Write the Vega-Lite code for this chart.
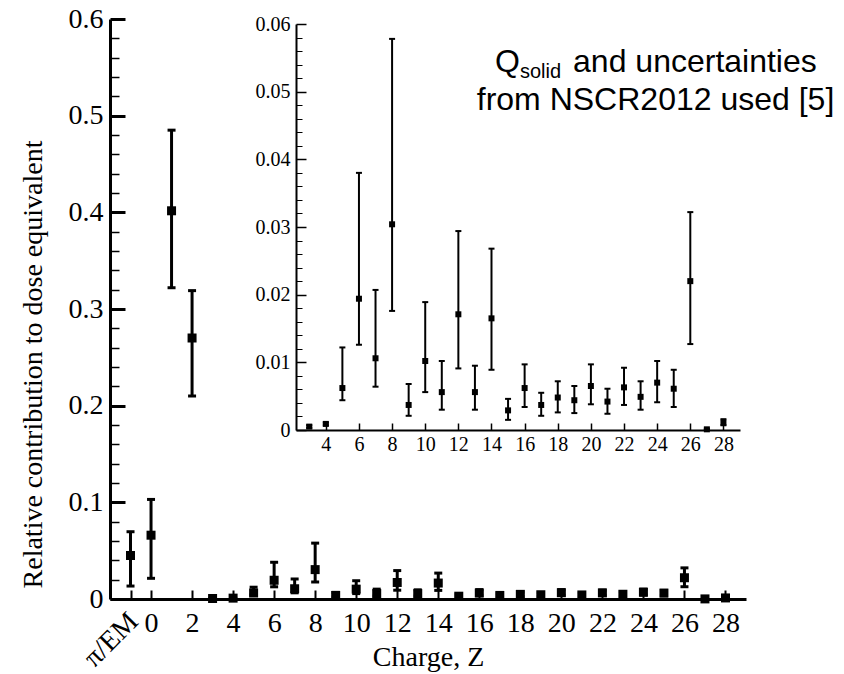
{
  "$schema": "https://vega.github.io/schema/vega-lite/v6.json",
  "width": 636,
  "height": 580,
  "autosize": {"type": "none"},
  "padding": {"left": 110, "top": 19, "right": 98, "bottom": 75},
  "background": "white",
  "config": {
    "view": {"stroke": null},
    "axis": {"grid": false, "domainColor": "black", "tickColor": "black", "labelColor": "black", "titleColor": "black", "labelFlush": false, "labelOverlap": false, "labelBound": false, "titleFontWeight": "normal"}
  },
  "data": {
    "values": [
      {"z": -1, "v": 0.045, "lo": 0.0134, "hi": 0.0696},
      {"z": 0, "v": 0.066, "lo": 0.0214, "hi": 0.103},
      {"z": 1, "v": 0.4016, "lo": 0.322, "hi": 0.485},
      {"z": 2, "v": 0.27, "lo": 0.21, "hi": 0.319},
      {"z": 3, "v": 0.0005, "lo": 0.0003, "hi": 0.0007},
      {"z": 4, "v": 0.0009, "lo": 0.0007, "hi": 0.0011},
      {"z": 5, "v": 0.0062, "lo": 0.0044, "hi": 0.0122},
      {"z": 6, "v": 0.0194, "lo": 0.0126, "hi": 0.038},
      {"z": 7, "v": 0.0106, "lo": 0.0064, "hi": 0.0207},
      {"z": 8, "v": 0.0304, "lo": 0.0176, "hi": 0.0578},
      {"z": 9, "v": 0.0037, "lo": 0.0021, "hi": 0.0068},
      {"z": 10, "v": 0.0102, "lo": 0.0056, "hi": 0.0189},
      {"z": 11, "v": 0.0056, "lo": 0.003, "hi": 0.0102},
      {"z": 12, "v": 0.0171, "lo": 0.0091, "hi": 0.0294},
      {"z": 13, "v": 0.0056, "lo": 0.003, "hi": 0.0095},
      {"z": 14, "v": 0.0165, "lo": 0.0089, "hi": 0.0268},
      {"z": 15, "v": 0.0029, "lo": 0.0015, "hi": 0.0046},
      {"z": 16, "v": 0.0062, "lo": 0.0034, "hi": 0.0097},
      {"z": 17, "v": 0.0037, "lo": 0.0021, "hi": 0.0055},
      {"z": 18, "v": 0.0048, "lo": 0.0026, "hi": 0.0072},
      {"z": 19, "v": 0.0044, "lo": 0.0025, "hi": 0.0065},
      {"z": 20, "v": 0.0065, "lo": 0.0038, "hi": 0.0097},
      {"z": 21, "v": 0.0042, "lo": 0.0024, "hi": 0.0061},
      {"z": 22, "v": 0.0063, "lo": 0.0037, "hi": 0.0092},
      {"z": 23, "v": 0.0049, "lo": 0.003, "hi": 0.0072},
      {"z": 24, "v": 0.007, "lo": 0.0041, "hi": 0.0102},
      {"z": 25, "v": 0.0061, "lo": 0.0034, "hi": 0.0089},
      {"z": 26, "v": 0.022, "lo": 0.0127, "hi": 0.0322},
      {"z": 27, "v": 0.0001, "lo": 0.0, "hi": 0.0002},
      {"z": 28, "v": 0.0011, "lo": 0.0007, "hi": 0.0016}
    ]
  },
  "resolve": {
    "scale": {"x": "independent", "y": "independent"},
    "axis": {"x": "independent", "y": "independent"}
  },
  "layer": [
    {
      "mark": {"type": "rule", "strokeWidth": 3, "color": "black"},
      "encoding": {
        "x": {
          "field": "z", "type": "quantitative",
          "scale": {"domain": [-2, 29], "nice": false, "zero": false},
          "axis": {
            "orient": "bottom",
            "values": [-1, 0, 2, 4, 6, 8, 10, 12, 14, 16, 18, 20, 22, 24, 26, 28],
            "format": "d",
            "labelExpr": "datum.value < 0 ? '' : datum.label",
            "tickSize": -9, "tickWidth": 2, "domainWidth": 3,
            "labelFont": "Liberation Serif", "labelFontSize": 28, "labelPadding": 19,
            "title": "Charge, Z", "titleFont": "Liberation Serif", "titleFontSize": 28, "titlePadding": 6
          }
        },
        "y": {
          "field": "lo", "type": "quantitative",
          "scale": {"domain": [0, 0.6], "nice": false, "zero": false},
          "axis": {
            "orient": "left",
            "values": [0, 0.02, 0.04, 0.06, 0.08, 0.1, 0.12, 0.14, 0.16, 0.18, 0.2, 0.22, 0.24, 0.26, 0.28, 0.3, 0.32, 0.34, 0.36, 0.38, 0.4, 0.42, 0.44, 0.46, 0.48, 0.5, 0.52, 0.54, 0.56, 0.58, 0.6],
            "format": ".1~f",
            "labelExpr": "abs(datum.value * 10 - round(datum.value * 10)) < 1e-6 ? datum.label : ''",
            "tickSize": {"condition": {"test": "abs(datum.value * 10 - round(datum.value * 10)) < 1e-6", "value": -15}, "value": -9},
            "tickWidth": {"condition": {"test": "abs(datum.value * 10 - round(datum.value * 10)) < 1e-6", "value": 3}, "value": 1.5},
            "domainWidth": 3,
            "labelFont": "Liberation Serif", "labelFontSize": 28, "labelPadding": 22,
            "title": "Relative contribution to dose equivalent", "titleFont": "Liberation Serif", "titleFontSize": 28, "titlePadding": 21, "titleY": 345
          }
        },
        "y2": {"field": "hi"}
      }
    },
    {
      "mark": {"type": "tick", "orient": "horizontal", "size": 8, "thickness": 3, "color": "black", "opacity": 1},
      "encoding": {
        "x": {"field": "z", "type": "quantitative", "scale": {"domain": [-2, 29], "nice": false, "zero": false}, "axis": null},
        "y": {"field": "lo", "type": "quantitative", "scale": {"domain": [0, 0.6], "nice": false, "zero": false}, "axis": null}
      }
    },
    {
      "mark": {"type": "tick", "orient": "horizontal", "size": 8, "thickness": 3, "color": "black", "opacity": 1},
      "encoding": {
        "x": {"field": "z", "type": "quantitative", "scale": {"domain": [-2, 29], "nice": false, "zero": false}, "axis": null},
        "y": {"field": "hi", "type": "quantitative", "scale": {"domain": [0, 0.6], "nice": false, "zero": false}, "axis": null}
      }
    },
    {
      "mark": {"type": "square", "size": 81, "color": "black", "filled": true, "opacity": 1},
      "encoding": {
        "x": {
          "field": "z", "type": "quantitative",
          "scale": {"domain": [-2, 29], "nice": false, "zero": false},
          "axis": {
            "orient": "bottom", "values": [-1], "domain": false, "ticks": false,
            "labelExpr": "'π/EM'", "labelAngle": -45, "labelAlign": "right", "labelBaseline": "middle",
            "labelFont": "Liberation Serif", "labelFontSize": 28, "labelPadding": 18, "labelOffset": 3,
            "title": null
          }
        },
        "y": {"field": "v", "type": "quantitative", "scale": {"domain": [0, 0.6], "nice": false, "zero": false}, "axis": null}
      }
    },
    {
      "transform": [{"filter": "datum.z >= 3"}],
      "mark": {"type": "rule", "strokeWidth": 2, "color": "black"},
      "encoding": {
        "x": {
          "field": "z", "type": "quantitative",
          "scale": {"domain": [2.2, 29], "range": [186, 630], "nice": false, "zero": false},
          "axis": {
            "orient": "bottom", "offset": -169,
            "values": [4, 6, 8, 10, 12, 14, 16, 18, 20, 22, 24, 26, 28],
            "format": "d",
            "tickSize": -7, "tickWidth": 1.5, "domainWidth": 2,
            "labelFont": "Liberation Serif", "labelFontSize": 20, "labelPadding": 11,
            "title": null
          }
        },
        "y": {
          "field": "lo", "type": "quantitative",
          "scale": {"domain": [0, 0.06], "range": [411, 5], "nice": false, "zero": false},
          "axis": {
            "orient": "left", "offset": -186,
            "values": [0, 0.002, 0.004, 0.006, 0.008, 0.01, 0.012, 0.014, 0.016, 0.018, 0.02, 0.022, 0.024, 0.026, 0.028, 0.03, 0.032, 0.034, 0.036, 0.038, 0.04, 0.042, 0.044, 0.046, 0.048, 0.05, 0.052, 0.054, 0.056, 0.058, 0.06],
            "format": ".2~f",
            "labelExpr": "abs(datum.value * 100 - round(datum.value * 100)) < 1e-6 ? datum.label : ''",
            "tickSize": {"condition": {"test": "abs(datum.value * 100 - round(datum.value * 100)) < 1e-6", "value": -10}, "value": -6},
            "tickWidth": {"condition": {"test": "abs(datum.value * 100 - round(datum.value * 100)) < 1e-6", "value": 1.5}, "value": 1},
            "domainWidth": 2,
            "labelFont": "Liberation Serif", "labelFontSize": 20, "labelPadding": 16,
            "title": null
          }
        },
        "y2": {"field": "hi"}
      }
    },
    {
      "transform": [{"filter": "datum.z >= 3"}],
      "mark": {"type": "tick", "orient": "horizontal", "size": 6, "thickness": 2, "color": "black", "opacity": 1},
      "encoding": {
        "x": {"field": "z", "type": "quantitative", "scale": {"domain": [2.2, 29], "range": [186, 630], "nice": false, "zero": false}, "axis": null},
        "y": {"field": "lo", "type": "quantitative", "scale": {"domain": [0, 0.06], "range": [411, 5], "nice": false, "zero": false}, "axis": null}
      }
    },
    {
      "transform": [{"filter": "datum.z >= 3"}],
      "mark": {"type": "tick", "orient": "horizontal", "size": 6, "thickness": 2, "color": "black", "opacity": 1},
      "encoding": {
        "x": {"field": "z", "type": "quantitative", "scale": {"domain": [2.2, 29], "range": [186, 630], "nice": false, "zero": false}, "axis": null},
        "y": {"field": "hi", "type": "quantitative", "scale": {"domain": [0, 0.06], "range": [411, 5], "nice": false, "zero": false}, "axis": null}
      }
    },
    {
      "transform": [{"filter": "datum.z >= 3"}],
      "mark": {"type": "square", "size": 36, "color": "black", "filled": true, "opacity": 1},
      "encoding": {
        "x": {"field": "z", "type": "quantitative", "scale": {"domain": [2.2, 29], "range": [186, 630], "nice": false, "zero": false}, "axis": null},
        "y": {"field": "v", "type": "quantitative", "scale": {"domain": [0, 0.06], "range": [411, 5], "nice": false, "zero": false}, "axis": null}
      }
    },
    {
      "data": {"values": [{"t": "Q"}]},
      "mark": {"type": "text", "font": "Liberation Sans", "fontSize": 32, "align": "left", "baseline": "alphabetic", "color": "black"},
      "encoding": {
        "x": {"datum": 16.77, "type": "quantitative", "scale": {"domain": [-2, 29], "nice": false, "zero": false}, "axis": null},
        "y": {"datum": 0.5452, "type": "quantitative", "scale": {"domain": [0, 0.6], "nice": false, "zero": false}, "axis": null},
        "text": {"field": "t"}
      }
    },
    {
      "data": {"values": [{"t": "solid"}]},
      "mark": {"type": "text", "font": "Liberation Sans", "fontSize": 20, "align": "left", "baseline": "alphabetic", "color": "black"},
      "encoding": {
        "x": {"datum": 17.98, "type": "quantitative", "scale": {"domain": [-2, 29], "nice": false, "zero": false}, "axis": null},
        "y": {"datum": 0.539, "type": "quantitative", "scale": {"domain": [0, 0.6], "nice": false, "zero": false}, "axis": null},
        "text": {"field": "t"}
      }
    },
    {
      "data": {"values": [{"t": "and uncertainties"}]},
      "mark": {"type": "text", "font": "Liberation Sans", "fontSize": 32, "align": "left", "baseline": "alphabetic", "color": "black"},
      "encoding": {
        "x": {"datum": 20.57, "type": "quantitative", "scale": {"domain": [-2, 29], "nice": false, "zero": false}, "axis": null},
        "y": {"datum": 0.5452, "type": "quantitative", "scale": {"domain": [0, 0.6], "nice": false, "zero": false}, "axis": null},
        "text": {"field": "t"}
      }
    },
    {
      "data": {"values": [{"t": "from NSCR2012 used [5]"}]},
      "mark": {"type": "text", "font": "Liberation Sans", "fontSize": 32, "align": "center", "baseline": "alphabetic", "color": "black"},
      "encoding": {
        "x": {"datum": 24.59, "type": "quantitative", "scale": {"domain": [-2, 29], "nice": false, "zero": false}, "axis": null},
        "y": {"datum": 0.5058, "type": "quantitative", "scale": {"domain": [0, 0.6], "nice": false, "zero": false}, "axis": null},
        "text": {"field": "t"}
      }
    }
  ]
}
